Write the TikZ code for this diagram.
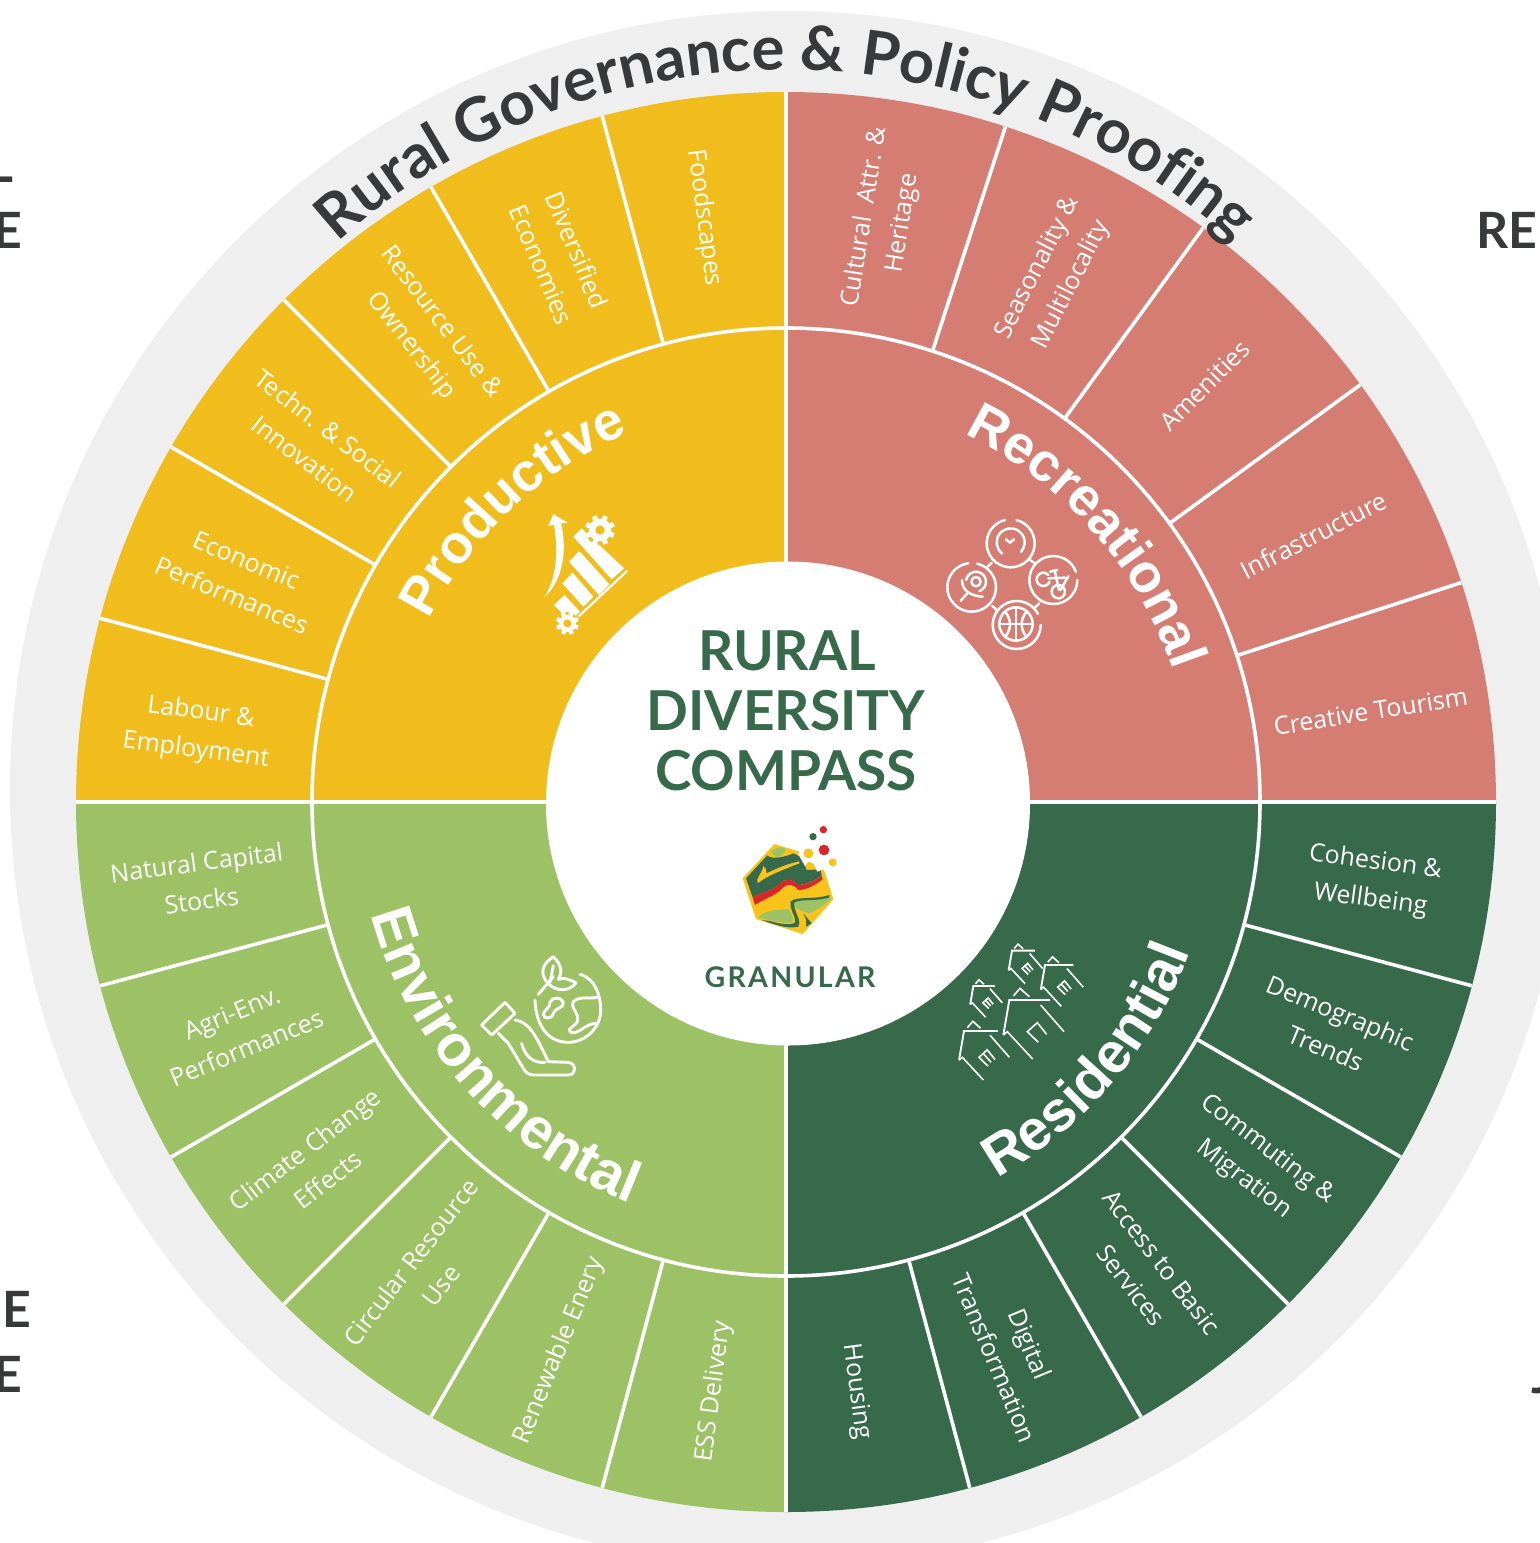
\documentclass[tikz,border=0pt]{standalone}
\usepackage{fontspec}
\usetikzlibrary{decorations.text}
\setmainfont{Open Sans}
\newfontfamily\lato{Lato}
\newfontfamily\latospaced[LetterSpace=8]{Lato}
\newfontfamily\arialb{Liberation Sans}
\definecolor{yel}{HTML}{F0BD1D}
\definecolor{logoyel}{HTML}{F8C41C}
\definecolor{redc}{HTML}{D67D73}
\definecolor{lgreen}{HTML}{9CC265}
\definecolor{dgreen}{HTML}{37694B}
\definecolor{greyring}{HTML}{EFEFEF}
\definecolor{ink}{HTML}{37393B}
\definecolor{logored}{HTML}{D8262A}
\tikzset{
  ringtxt/.style={text=white,align=center,inner sep=0pt,font=\fontsize{25}{38}\selectfont},
  divider/.style={draw=white,line width=3.6pt},
  zoomcs/.style 2 args={shift={(#1,-#2)},x=0.33333pt,y=-0.33333pt},
  iconline/.style={draw=white,line width=2.5pt,line cap=round,line join=round},
  iconthick/.style={draw=white,line width=2.9pt,line cap=round,line join=round},
  sidetxt/.style={text=ink,inner sep=0pt,font=\lato\bfseries\fontsize{50}{50}\selectfont},
  centretxt/.style={text=dgreen,inner sep=0pt,font=\lato\bfseries\fontsize{55}{60}\selectfont},
}
\newcommand\sector[3]{\fill[#1] (#2:710) arc (#2:#3:710) -- (0,0) -- cycle;}
\newcommand\ringlabel[4]{\node[ringtxt,rotate=#3] (#1) at ([yshift=-2pt]#2:592) {#4};}
\newcommand\gearicon[5]{%
  \fill[yel] (#1,#2) circle ({#3*1.3});
  \fill[white] (#1,#2) circle (#3);
  \foreach \a in {0,45,...,315}{\draw[white,line width=#5pt] (#1,#2) ++(\a+22:#3*0.9) -- ++(\a+22:#3*0.42);}
  \fill[yel] (#1,#2) circle (#4);}
\newcommand\houseicon[3]{%
 \begin{scope}[shift={(#1,#2)},scale=#3]
  \draw[draw=white,line width=1.9pt,line join=miter] (122,0) -- (0,0) -- (-18,105);
  \draw[draw=white,line width=1.6pt] (-18,105) -- (-6,95) -- (70,177);
  \draw[draw=white,line width=1.6pt] (94,15) -- (164,95);
  \draw[draw=white,line width=1.6pt] (87,127) -- (54,95) -- (84,68) -- (112,103);
  \draw[draw=white,line width=1.6pt] (12,-12) -- (32,-35) -- (60,-10);
 \end{scope}}
\newcommand\housebar[3]{\draw[draw=white,line width=1.6pt,shift={(#1,#2)},scale=#3] (69,81) -- (98,113);}
\begin{document}
\begin{tikzpicture}[x=1pt,y=1pt]
\useasboundingbox (0,0) rectangle (1540,-1543);
\fill[white] (0,0) rectangle (1540,-1543);
% grey ring
\fill[greyring] (788,-789) circle (778);
% side letters
\node[sidetxt,anchor=base east] (sideL) at (14,-182) {L};
\node[sidetxt,anchor=base east] (sideEa) at (22,-248) {E};
\node[sidetxt,anchor=base east] (sideEb) at (31,-1327) {E};
\node[sidetxt,anchor=base east] (sideEc) at (22,-1392) {E};
\node[sidetxt,anchor=base west] (sideRE) at (1476,-248) {RE};
\node[sidetxt,anchor=base west] (sideJ) at (1531,-1393) {J};
% wheel
\begin{scope}[shift={(786,-802)}]
 \sector{yel}{90}{180}
 \sector{redc}{0}{90}
 \sector{dgreen}{270}{360}
 \sector{lgreen}{180}{270}
 \foreach \a in {105,120,135,150,165,195,210,225,240,255,285,300,315,330,345,18,36,54,72}{\draw[divider] (\a:474) -- (\a:710);}
 \draw[divider] (0,0) -- (0,710);
 \draw[divider] (0,0) -- (0,-710);
 \draw[divider] (-710,0) -- (710,0);
 \draw[divider] (0,0) circle (474);
 \fill[white] (2,-1.5) circle (242);
 % labels
 \ringlabel{lab1}{173}{-7.5}{Labour \&\\Employment}
 \ringlabel{lab2}{157.5}{-22.5}{Economic\\Performances}
 \ringlabel{lab3}{142.5}{-37.5}{Techn. \& Social\\Innovation}
 \ringlabel{lab4}{127.5}{-52.5}{Resource Use \&\\Ownership}
 \ringlabel{lab5}{112.5}{-67.5}{Diversified\\Economies}
 \ringlabel{lab6}{98}{-82.5}{Foodscapes}
 \ringlabel{lab7}{80.5}{81}{Cultural~~Attr. \&\\Heritage}
 \ringlabel{lab8}{63}{63}{Seasonality \&\\Multilocality}
 \ringlabel{lab9}{45}{45}{Amenities}
 \ringlabel{lab10}{27}{27}{Infrastructure}
 \ringlabel{lab11}{9}{9}{Creative Tourism}
 \ringlabel{lab12}{-7.5}{-7.5}{Cohesion \&\\Wellbeing}
 \ringlabel{lab13}{-22.5}{-22.5}{Demographic\\Trends}
 \ringlabel{lab14}{-37.5}{-37.5}{Commuting \&\\Migration}
 \ringlabel{lab15}{-52.5}{-52.5}{Access to Basic\\Services}
 \ringlabel{lab16}{-67.5}{-67.5}{Digital\\Transformation}
 \ringlabel{lab17}{-83.2}{-82.5}{Housing}
 \ringlabel{lab18}{187.5}{7.5}{Natural Capital\\Stocks}
 \ringlabel{lab19}{202.5}{22.5}{Agri-Env.\\Performances}
 \ringlabel{lab20}{217.5}{37.5}{Climate Change\\Effects}
 \ringlabel{lab21}{232.5}{52.5}{Circular Resource\\Use}
 \ringlabel{lab22}{247.5}{67.5}{Renewable Enery}
 \ringlabel{lab23}{263}{82.5}{ESS Delivery}
 % curved category names
 \path[decorate,decoration={text along path,text align=center,text color=white,text={|\arialb\bfseries\fontsize{54}{54}\selectfont|Productive}}] (170:401) arc (170:96:401);
 \path[decorate,decoration={text along path,text align=center,text color=white,text={|\arialb\bfseries\fontsize{54}{54}\selectfont|Recreational}}] (80:409) arc (80:3:409);
 \path[decorate,decoration={text along path,text align=center,text color=white,text={|\arialb\bfseries\fontsize{57}{57}\selectfont|Residential}}] (-78:431) arc (-78:-3:431);
 \path[decorate,decoration={text along path,text align=center,text color=white,text={|\arialb\bfseries\fontsize{58}{58}\selectfont|Environmental}}] (185:430) arc (185:259:430);
\end{scope}
% title
\begin{scope}[shift={(786,-738)}]
 \path[decorate,decoration={text along path,text align=center,text color=ink,text={|\lato\bfseries\fontsize{61.5}{62}\selectfont|Rural Governance {\&} Policy Proofing}}] (140:668) arc (140:40:668);
\end{scope}
% centre text
\node[centretxt,anchor=base] (c1) at (787,-670) {RURAL};
\node[centretxt,anchor=base] (c2) at (786,-730) {DIVERSITY};
\node[centretxt,anchor=base] (c3) at (786,-790) {COMPASS};
\node[text=dgreen,inner sep=0pt,anchor=base,font=\latospaced\bfseries\fontsize{28.5}{29}\selectfont] (c4) at (790,-987) {GRANULAR};
% logo
\begin{scope}[zoomcs={730}{820}]
 \fill[logoyel] (133,72) -- (215,97) -- (282,150) -- (310,238) -- (218,342) -- (78,297) -- (38,175) -- cycle;
 \fill[lgreen] (122,97) .. controls (130,85) and (150,78) .. (165,85) .. controls (170,95) and (160,105) .. (140,112) -- cycle;
 \fill[dgreen] (48,175) -- (112,106) .. controls (125,120) and (170,110) .. (190,100) -- (215,112) -- (230,150) -- (272,148) -- (275,168) .. controls (240,190) and (215,195) .. (205,195) .. controls (190,175) and (165,175) .. (150,190) .. controls (135,210) and (100,215) .. (68,232) -- cycle;
 \fill[logoyel] (82,188) .. controls (78,172) and (95,165) .. (100,138) .. controls (106,142) and (110,150) .. (110,160) .. controls (150,140) and (180,130) .. (208,124) -- (208,130) .. controls (170,145) and (130,160) .. (105,175) .. controls (95,180) and (87,190) .. (82,188) -- cycle;
 \fill[logored] (68,232) .. controls (100,215) and (135,210) .. (150,190) .. controls (165,175) and (190,175) .. (205,195) .. controls (225,195) and (250,185) .. (275,168) -- (278,178) .. controls (250,200) and (225,210) .. (205,210) .. controls (190,190) and (170,190) .. (157,205) .. controls (140,225) and (105,235) .. (75,255) -- cycle;
 \fill[lgreen] (182,245) .. controls (215,235) and (260,240) .. (298,225) -- (302,240) .. controls (280,255) and (255,275) .. (235,280) .. controls (220,275) and (200,265) .. (190,260) -- cycle;
 \fill[dgreen] (182,245) .. controls (195,228) and (250,240) .. (298,225) -- (298,232) .. controls (260,246) and (210,235) .. (192,248) .. controls (192,275) and (208,290) .. (208,308) -- (205,320) .. controls (170,328) and (130,312) .. (95,300) -- (120,303) .. controls (150,312) and (185,318) .. (196,306) .. controls (196,285) and (176,265) .. (182,245) -- cycle;
 \fill[lgreen] (85,292) .. controls (100,275) and (130,268) .. (178,268) .. controls (180,285) and (195,295) .. (188,306) .. controls (165,313) and (130,303) .. (85,292) -- cycle;
 \fill[dgreen] (220,280) -- (245,310) -- (228,320) -- (228,298) -- cycle;
 \fill[white] (212,88) -- (205,103) -- (225,138) -- (235,125) -- (250,130) -- (262,155) -- (280,148) -- (300,90) -- cycle;
 \fill[logoyel] (235,100) circle (15);
 \fill[logored] (282,90) circle (16);
 \fill[dgreen] (249,50) circle (11);
 \fill[logored] (280,29) circle (11);
 \fill[logoyel] (308,127) circle (12);
\end{scope}
% productive icon
\begin{scope}[zoomcs={530}{500}]
 \fill[white] (43,292) .. controls (75,240) and (88,170) .. (72,74) -- (55,78) -- (70,42) -- (112,68) -- (93,70) .. controls (112,150) and (100,240) .. (43,292) -- cycle;
 \fill[white] (130,110) -- (155,85) -- (282,205) -- (245,238) -- cycle;
 \fill[white] (117,185) -- (148,153) -- (238,253) -- (207,285) -- cycle;
 \fill[white] (97,250) -- (128,218) -- (190,290) -- (160,320) -- cycle;
 \fill[white] (72,315) -- (103,285) -- (150,335) -- (120,365) -- cycle;
 \draw[white,line width=2.2pt] (145,350) -- (292,212);
 \gearicon{210}{90}{34}{14}{5}
 \gearicon{112}{370}{26}{12}{4.5}
\end{scope}
% recreational icon
\begin{scope}[zoomcs={940}{510}]
 \draw[iconline] (212,100) ++(-76:72) arc (-76:256:72);
 \draw[iconline] (212,97) ++(127:42) arc (127:403:42);
 \draw[iconline] (198,88) -- (210,98) -- (222,88);
 \draw[iconline] (143,170) -- (155,158);
 \draw[iconline] (270,150) -- (285,160);
 \draw[iconline] (157,288) -- (170,300);
 \draw[iconline] (285,292) -- (298,280);
 \draw[iconline] (95,232) ++(-77:73) arc (-77:262:73);
 \draw[iconline] (108,215) circle (14);
 \draw[iconline] (108,215) ++(-170:30) arc (-170:70:30);
 \draw[iconline] (66,210) .. controls (66,240) and (90,258) .. (128,260);
 \draw[iconline] (82,250) -- (62,272);
 \draw[iconline] (340,210) ++(0:72) arc (0:340:72);
 \draw[iconline] (310,208) ++(20:20) arc (20:320:20);
 \draw[iconline] (355,245) circle (20);
 \draw[iconline] (330,185) -- (352,180);
 \draw[iconline] (345,185) -- (357,240);
 \draw[iconline] (325,205) -- (375,203);
 \draw[iconline] (385,198) -- (362,240);
 \draw[iconline] (230,345) ++(0:72) arc (0:332:72);
 \draw[iconline] (228,342) circle (50);
 \draw[iconline] (228,292) -- (228,392);
 \draw[iconline] (178,342) -- (278,342);
 \draw[iconline] (195,304) .. controls (215,330) and (215,355) .. (195,382);
 \draw[iconline] (260,304) .. controls (240,330) and (240,355) .. (260,382);
\end{scope}
% environmental icon
\begin{scope}[zoomcs={470}{945}]
 \draw[iconthick] (330,88) .. controls (375,100) and (392,150) .. (392,195) .. controls (392,250) and (345,292) .. (295,292) .. controls (240,292) and (198,250) .. (195,165);
 \draw[iconthick] (205,148) -- (250,95);
 \draw[iconthick] (237,118) .. controls (215,95) and (205,65) .. (250,35) .. controls (280,65) and (275,85) .. (265,103) .. controls (280,95) and (300,105) .. (318,113) .. controls (300,140) and (260,140) .. (237,118);
 \draw[iconthick] (250,62) -- (240,112);
 \draw[iconthick] (240,172) .. controls (245,155) and (275,155) .. (280,172) .. controls (285,190) and (250,190) .. (250,205) .. controls (245,225) and (220,222) .. (220,208) .. controls (222,195) and (240,190) .. (240,172) -- cycle;
 \draw[iconthick] (385,155) .. controls (365,165) and (330,150) .. (310,170) .. controls (300,190) and (330,205) .. (322,230) .. controls (315,245) and (290,250) .. (300,260) .. controls (320,275) and (345,235) .. (378,235);
 \draw[iconthick] (105,172) -- (135,205) -- (65,270) -- (35,240) -- cycle;
 \draw[iconthick] (135,225) .. controls (175,230) and (195,265) .. (235,350) -- (295,352) .. controls (320,355) and (320,390) .. (295,390) -- (190,390) .. controls (175,390) and (165,380) .. (160,370) -- (115,295) -- (85,265);
 \draw[iconthick] (155,295) .. controls (165,335) and (190,355) .. (225,352);
\end{scope}
% residential icon
\begin{scope}[zoomcs={950}{935}]
 \houseicon{178}{195}{1}
 \houseicon{42}{288}{0.83}
 \houseicon{186}{47}{0.56}
 \houseicon{285}{90}{0.7}
 \houseicon{70}{153}{0.53}
 \housebar{42}{288}{0.83}
 \housebar{186}{47}{0.56}
 \housebar{285}{90}{0.7}
 \housebar{70}{153}{0.53}
\end{scope}
\end{tikzpicture}
\end{document}
